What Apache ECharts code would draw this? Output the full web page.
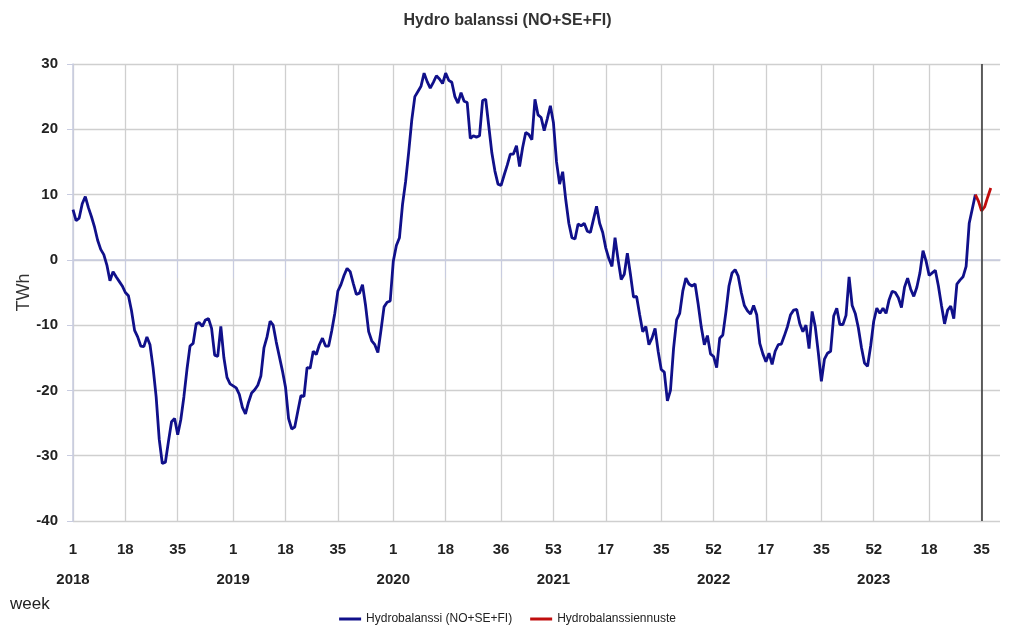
<!DOCTYPE html>
<html>
<head>
<meta charset="utf-8">
<script src="https://cdn.jsdelivr.net/npm/echarts@6/dist/echarts.min.js"></script>
<style>
  html, body { margin: 0; padding: 0; background: #fff; }
  #main { width: 1015px; height: 632px; }
</style>
</head>
<body>
<div id="main"></div>
<script>
// weeks in each year shown on the axis (2023 runs a few weeks past the forecast)
var years = [2018, 2019, 2020, 2021, 2022, 2023];
var weeksInYear = [52, 52, 53, 52, 52, 41];

// category indices that carry a tick / label, and the year printed under some of them
var tickIdx = [0, 17, 34, 52, 69, 86, 104, 121, 139, 156, 173, 191, 208, 225, 243, 260, 278, 295];
var yearIdx = [0, 52, 104, 156, 208, 260];
var yearText = ['2018', '2019', '2020', '2021', '2022', '2023'];

// hydro balance, TWh, weekly from 2018 week 1
var balance = [
  7.7, 6.0, 6.4, 8.6, 9.7, 8.0, 6.6, 5.0, 3.0, 1.6,
  0.8, -0.8, -3.2, -1.8, -2.6, -3.3, -4.0, -5.0, -5.5, -7.8,
  -10.8, -11.8, -13.2, -13.3, -11.8, -13.0, -16.5, -21.0, -27.5, -31.2,
  -31.0, -27.8, -24.8, -24.3, -26.8, -24.5, -21.0, -16.8, -13.2, -12.8,
  -9.8, -9.6, -10.2, -9.2, -9.0, -10.5, -14.6, -14.8, -10.2, -15.0,
  -18.0, -19.0, -19.3, -19.6, -20.6, -22.6, -23.6, -21.8, -20.4, -19.9,
  -19.2, -17.8, -13.5, -11.8, -9.4, -10.0, -12.6, -14.8, -17.0, -19.5,
  -24.3, -25.9, -25.6, -23.2, -20.8, -20.9, -16.5, -16.6, -14.0, -14.5,
  -13.0, -12.0, -13.2, -13.2, -10.9, -8.2, -4.8, -3.8, -2.4, -1.3,
  -1.8, -3.6, -5.3, -5.1, -3.8, -7.0, -11.0, -12.4, -13.0, -14.2,
  -10.8, -7.2, -6.5, -6.3, -0.2, 2.2, 3.4, 8.5, 12.0, 16.5,
  21.4, 25.0, 25.8, 26.6, 28.6, 27.3, 26.3, 27.2, 28.2, 27.7,
  27.0, 28.6, 27.5, 27.2, 25.0, 24.0, 25.6, 24.3, 24.1, 18.6,
  19.0, 18.8, 19.0, 24.4, 24.6, 20.5, 16.4, 13.6, 11.6, 11.4,
  13.0, 14.5, 16.2, 16.2, 17.5, 14.3, 17.2, 19.5, 19.2, 18.4,
  24.6, 22.2, 21.8, 19.8, 21.6, 23.6, 21.0, 15.0, 11.6, 13.5,
  9.2, 5.6, 3.4, 3.2, 5.5, 5.2, 5.6, 4.4, 4.2, 6.2,
  8.2, 5.6, 4.2, 1.8, 0.2, -1.0, 3.4, 0.0, -3.0, -2.2,
  1.0, -2.2, -5.7, -5.6, -8.4, -11.0, -10.2, -13.0, -12.0, -10.5,
  -14.0, -16.8, -17.2, -21.6, -20.0, -13.6, -9.2, -8.2, -4.8, -2.8,
  -3.7, -4.0, -3.7, -6.8, -10.3, -13.0, -11.6, -14.4, -14.8, -16.5,
  -12.0, -11.5, -8.0, -4.0, -2.0, -1.5, -2.5, -5.0, -7.0, -7.8,
  -8.3, -7.0, -8.4, -12.8, -14.4, -15.6, -14.3, -16.0, -14.0, -13.0,
  -12.9, -11.6, -10.2, -8.4, -7.7, -7.6, -9.8, -11.0, -10.0, -13.6,
  -7.9, -10.2, -14.2, -18.6, -15.2, -14.3, -14.0, -8.6, -7.4, -9.9,
  -9.9, -8.5, -2.6, -7.0, -8.2, -10.4, -13.4, -15.8, -16.3, -13.2,
  -9.4, -7.4, -8.2, -7.4, -8.2, -6.1, -4.8, -5.0, -5.8, -7.3,
  -4.2, -2.8, -4.5, -5.6, -4.2, -2.0, 1.4, -0.2, -2.4, -2.0,
  -1.6, -4.0, -7.0, -9.8, -7.7, -7.1, -9.0, -3.7, -3.1, -2.6,
  -1.0, 5.6, 7.8, 10.0
];

// forecast starts where the measured series ends (index 293)
var forecastStart = 293;
var forecast = [10.0, 9.0, 7.5, 8.1, 9.6, 11.0];

var nowIdx = 295; // 2023 week 35

var weeks = [];
years.forEach(function (y, k) {
  for (var w = 1; w <= weeksInYear[k]; w++) weeks.push(String(w));
});

var forecastData = weeks.map(function (w, i) {
  var j = i - forecastStart;
  return (j >= 0 && j < forecast.length) ? forecast[j] : null;
});

var narrow = "'Liberation Sans Narrow', 'Arial Narrow', 'Liberation Sans', sans-serif";
var isTick = function (idx) { return tickIdx.indexOf(idx) >= 0; };

var option = {
  animation: false,
  backgroundColor: '#fff',
  title: {
    text: 'Hydro balanssi (NO+SE+FI)',
    left: 'center',
    top: 8,
    textStyle: { fontFamily: narrow, fontSize: 16, fontWeight: 'bold', color: '#333' }
  },
  legend: {
    bottom: 2,
    left: 'center',
    icon: 'rect',
    itemWidth: 22,
    itemHeight: 3,
    itemGap: 18,
    textStyle: { fontFamily: narrow, fontSize: 12, color: '#222' },
    data: ['Hydrobalanssi (NO+SE+FI)', 'Hydrobalanssiennuste']
  },
  graphic: [{
    type: 'text',
    left: 10,
    top: 596,
    style: { text: 'week', fontFamily: "'Liberation Sans', sans-serif", fontSize: 17, fill: '#222' }
  }],
  grid: { left: 73, right: 15, top: 64, bottom: 111 },
  xAxis: {
    type: 'category',
    data: weeks,
    boundaryGap: false,
    axisLine: { lineStyle: { color: '#c8cce0', width: 1.5 } },
    axisTick: { interval: isTick, length: 18, lineStyle: { color: '#c8cce0' } },
    splitLine: { show: true, interval: isTick, lineStyle: { color: '#cfcfcf', width: 1.3 } },
    axisLabel: {
      interval: isTick,
      margin: 14,
      lineHeight: 30,
      fontFamily: narrow,
      fontSize: 15,
      fontWeight: 'bold',
      color: '#222',
      formatter: function (val, idx) {
        var k = yearIdx.indexOf(idx);
        return k >= 0 ? val + '\n' + yearText[k] : val;
      }
    }
  },
  yAxis: {
    type: 'value',
    min: -40,
    max: 30,
    interval: 10,
    name: 'TWh',
    nameLocation: 'middle',
    nameGap: 40,
    nameMoveOverlap: false,
    nameTextStyle: { fontFamily: "'Liberation Sans', sans-serif", fontSize: 18, color: '#333' },
    axisLine: { show: true, lineStyle: { color: '#c8cce0', width: 1.5 } },
    axisTick: { show: true, length: 6, lineStyle: { color: '#c8cce0' } },
    splitLine: { lineStyle: { color: '#cfcfcf', width: 1.3 } },
    axisLabel: { margin: 15, fontFamily: narrow, fontSize: 15, fontWeight: 'bold', color: '#222' }
  },
  series: [
    {
      name: 'Hydrobalanssi (NO+SE+FI)',
      type: 'line',
      data: balance,
      showSymbol: false,
      color: '#10108a',
      lineStyle: { width: 2.8, color: '#10108a' },
      markLine: {
        silent: true,
        symbol: 'none',
        label: { show: false },
        lineStyle: { color: '#333', width: 1.5, type: 'solid' },
        data: [{ xAxis: nowIdx }]
      }
    },
    {
      name: 'Hydrobalanssiennuste',
      type: 'line',
      data: forecastData,
      showSymbol: false,
      color: '#c00d0d',
      lineStyle: { width: 2.8, color: '#c00d0d' }
    }
  ]
};

echarts.init(document.getElementById('main')).setOption(option);
</script>
</body>
</html>
